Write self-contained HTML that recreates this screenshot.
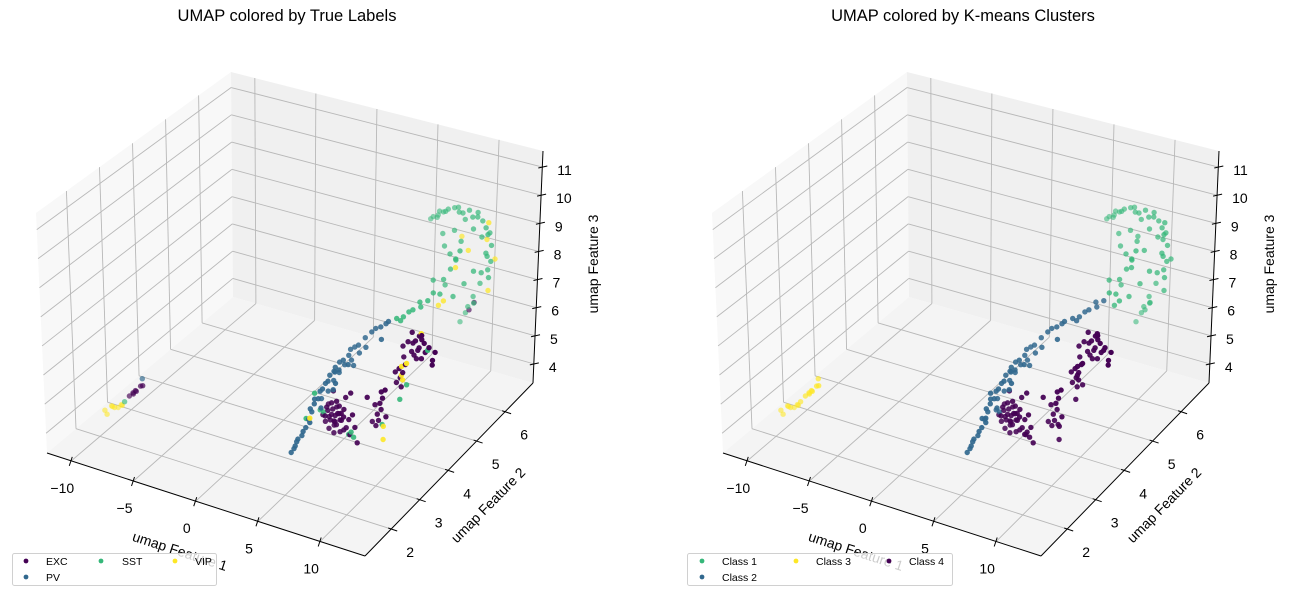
<!DOCTYPE html>
<html><head><meta charset="utf-8">
<style>
html,body{margin:0;padding:0;background:#fff;}
svg{display:block;font-family:"Liberation Sans","DejaVu Sans",sans-serif;}
</style></head>
<body>
<svg id="fig" width="1292" height="597" viewBox="0 0 1292 597" xmlns="http://www.w3.org/2000/svg">
<rect width="1292" height="597" fill="#ffffff"/>
<text x="287" y="21" font-size="16.5" text-anchor="middle" fill="#000">UMAP colored by True Labels</text>
<text x="963" y="21" font-size="16.5" text-anchor="middle" fill="#000">UMAP colored by K-means Clusters</text>
<g id="left"></g>
<g id="right" transform="translate(676,0)"></g>
<g>
<rect x="12.5" y="553.5" width="204" height="32" rx="2" fill="#fff" fill-opacity="0.8" stroke="#d0d0d0"/>
<circle cx="26" cy="561" r="2.4" fill="#440154"/>
<text x="46" y="565" font-size="10.5">EXC</text>
<circle cx="26" cy="577" r="2.4" fill="#31688e"/>
<text x="46" y="581" font-size="10.5">PV</text>
<circle cx="101" cy="561" r="2.4" fill="#35b779"/>
<text x="122" y="565" font-size="10.5">SST</text>
<circle cx="175" cy="561" r="2.4" fill="#fde725"/>
<text x="195" y="565" font-size="10.5">VIP</text>
</g>
<g>
<rect x="687.5" y="553.5" width="265" height="32" rx="2" fill="#fff" fill-opacity="0.8" stroke="#d0d0d0"/>
<circle cx="702" cy="561" r="2.4" fill="#35b779"/>
<text x="722" y="565" font-size="10.5">Class 1</text>
<circle cx="702" cy="577" r="2.4" fill="#31688e"/>
<text x="722" y="581" font-size="10.5">Class 2</text>
<circle cx="796" cy="561" r="2.4" fill="#fde725"/>
<text x="816" y="565" font-size="10.5">Class 3</text>
<circle cx="889" cy="561" r="2.4" fill="#440154"/>
<text x="909" y="565" font-size="10.5">Class 4</text>
</g>
</svg>
<script>
// ---- data (UMAP embedding) ----
const xs = [
-9.4,-9.1,-8.9,-8.6,-8.3,-9.1,-8.7,-8.1, -7.9, -7.5,-7.2,-7.0,-6.7,-6.8,-7.3,-6.4, -6.8,
4.3,4.4,4.5,4.5,4.6,4.8,4.9,5.0,5.2,5.1,
5.0,5.2,5.1,5.4,5.3,5.5,5.5,5.7,5.6,5.9,5.8,6.1,5.9,6.2,6.4,6.3,6.4,6.7,7.0,7.4,7.6,8.0,8.3,8.5,6.3,6.6,7.3,8.3,
8.8,9.1,9.3,9.7,10.1,9.5,9.9,9.0, 10.6,10.3,
10.4,10.7,11.0,11.2,10.3,11.1,
7.7,8.3,8.6,9.1,9.5,10.0,10.3,10.7,11.1,11.5,11.8,12.2,12.4,12.6,12.8,12.9,12.7,13.1,12.5,11.9,11.5,10.9,11.2,12.2,
9.3,10.0,10.8,11.3,9.7,10.4,12.1,11.6,11.2,9.8,12.2, 7.9,8.1,8.4,
5.3,5.5,5.7,5.9,6.1,6.3,6.4,6.6,6.8,7.0,6.0,6.4,5.8,6.2,6.7,7.2,7.4,7.5,7.9,8.1,5.5,6.5,6.9,6.1,6.4,7.1,5.6,7.7,7.3,5.9,
8.9,9.1,9.0,9.3,9.2,9.4,9.3,9.6,8.8,9.7,8.6,8.4,
9.8,10.1,10.3,10.0,10.2,9.7,10.5,
9.7,10.1,10.4,10.7,11.0,11.2,11.5,11.8,12.1,12.3,10.8,11.2,10.3,11.3,12.2,9.9,
11.6,12.0,
9.5,9.5,10.2,10.2,10.3,10.6,11.15,10.9,10.5,11.1,11.4,10.5,12.3,12.4,13.0,13.1,5.2,
5.35,5.2,7.4,7.6,7.8,9.4,10.1,11.7,4.9,5.1,10.4,
5.3,5.6,5.8,6.0,6.2,5.5,6.5,6.9,5.0,5.7,6.0,6.8,
5.6,6.0,6.2,6.5,6.7,5.8,6.3,7.0,6.9,
10.5,10.9,11.4,10.6,11.0,
8.9,9.8,10.5,11.4,12.0,12.6,12.9
];
const ys = [
1.95,2.05,2.0,1.95,2.05,1.9,2.1,2.0, 2.0, 2.0,2.0,2.0,2.05,1.95,2.05,2.0, 2.15,
2.5,2.55,2.55,2.6,2.6,2.65,2.65,2.7,2.75,2.75,
2.85,2.9,2.95,2.95,3.05,3.05,3.15,3.15,3.25,3.3,3.35,3.35,3.45,3.45,3.55,3.65,3.75,3.75,3.85,3.9,3.95,3.95,4.0,4.0,3.15,3.45,3.75,3.85,
4.15,4.25,4.35,4.55,4.65,4.4,4.5,4.2, 4.85,4.75,
5.05,5.15,5.2,5.25,5.15,5.15,
5.7,5.7,5.75,5.7,5.75,5.7,5.7,5.75,5.7,5.7,5.75,5.7,5.75,5.6,5.65,5.6,5.55,5.45,5.45,5.45,5.45,5.45,5.5,5.55,
5.45,5.55,5.45,5.65,5.35,5.25,5.35,5.25,5.05,4.95,5.35, 5.7,5.75,5.7,
3.15,3.15,3.15,3.15,3.15,3.15,3.15,3.15,3.15,3.15,3.15,3.15,3.15,3.15,3.15,3.15,3.15,3.15,3.15,3.15,3.25,3.2,3.25,3.2,3.1,3.1,3.1,3.15,3.25,3.25,
3.45,3.45,3.45,3.45,3.45,3.45,3.45,3.45,3.45,3.45,3.45,3.35,
3.75,3.75,3.75,3.75,3.75,3.75,3.75,
4.0,4.0,4.0,4.0,4.0,4.0,4.0,4.0,4.0,4.0,4.0,4.0,4.05,3.95,3.95,3.95,
5.45,5.45,
3.45,3.45,3.75,3.75,3.75,3.75,4.0,4.85,4.85,5.15,5.45,5.6,5.7,5.7,5.7,5.45,2.75,
3.15,3.1,3.15,3.15,3.15,3.45,3.75,4.0,2.75,2.95,3.85,
3.1,3.2,3.3,3.4,3.5,3.0,3.6,3.7,2.9,3.35,3.2,3.55,
3.15,3.15,3.15,3.15,3.15,3.15,3.2,3.15,3.1,
4.0,4.0,4.0,4.0,4.0,
5.7,5.75,5.7,5.75,5.65,5.55,5.5
];
const zs = [
4.35,4.45,4.5,4.55,4.6,4.3,4.4,4.65, 4.8, 5.05,5.2,5.3,5.45,5.35,5.1,5.55, 5.6,
4.2,4.3,4.4,4.5,4.6,4.7,4.85,4.95,5.1,5.2,
5.45,5.6,5.7,5.75,5.9,6.0,6.1,6.2,6.3,6.4,6.5,6.45,6.6,6.7,6.8,6.9,6.9,7.0,7.2,7.4,7.5,7.6,7.7,7.8,6.2,6.6,7.0,7.3,
7.8,7.8,7.9,8.1,8.1,7.95,8.0,7.7, 8.2,8.3,
8.5,8.8,9.1,9.4,8.2,9.2,
9.7,9.9,10.0,10.2,10.25,10.2,10.2,10.3,10.15,10.2,10.05,9.9,9.7,9.8,9.4,8.9,9.1,8.5,8.6,7.7,7.3,6.7,7.0,8.1,
9.6,9.7,9.5,9.8,9.3,9.2,8.7,8.3,8.0,8.5,7.6, 9.8,9.75,10.05,
5.0,4.8,5.2,4.9,5.3,5.1,4.8,5.2,5.0,5.4,5.5,5.6,4.6,4.5,4.6,4.8,5.1,4.6,4.9,4.4,5.3,5.4,5.7,4.7,4.95,5.2,5.05,5.3,5.9,5.8,
4.8,5.0,5.2,5.4,5.6,5.8,6.0,6.1,5.5,5.2,4.9,5.8,
6.1,6.3,6.5,6.6,6.0,6.45,6.8,
7.1,7.3,7.0,7.4,7.2,7.5,7.1,7.3,6.9,7.2,6.8,6.85,7.6,7.7,6.8,6.8,
7.2,7.5,
4.4,4.85,6.4,6.7,6.25,6.85,7.7,8.0,7.8,8.9,9.25,9.5,9.5,10.1,8.9,8.05,5.25,
5.1,5.2,4.6,4.7,4.55,4.9,5.56,7.2,5.2,5.9,6.0,
5.6,5.8,6.1,6.3,6.5,5.4,6.6,6.8,5.3,6.35,5.9,6.5,
5.3,5.1,4.9,5.2,5.0,5.0,5.35,4.7,5.3,
7.3,7.1,7.4,6.9,7.6,
10.1,10.3,10.0,10.3,9.6,9.2,8.7
];
// true labels: 0 EXC, 1 PV, 2 SST, 3 VIP
const labelsTrue = [
3,3,3,3,3,3,3,3, 2, 0,0,0,0,0,0,0, 1,
1,1,1,1,1,1,1,1,1,1,
1,1,1,1,1,1,1,1,1,1,1,1,1,1,1,1,1,1,1,1,1,1,1,1,1,1,1,1,
2,2,2,2,2,2,2,2, 2,2,
2,2,2,2,2,2,
2,2,2,2,2,2,2,2,2,2,2,2,2,2,2,2,2,2,2,2,2,2,2,2,
2,2,2,2,2,2,2,2,2,2,2, 2,2,2,
0,0,0,0,0,0,0,0,0,0,0,0,0,0,0,0,0,0,0,0,0,0,0,0,0,0,0,0,0,0,
0,0,0,0,0,0,0,0,0,0,0,0,
0,0,0,0,0,0,0,
0,0,0,0,0,0,0,0,0,0,0,0,0,0,0,0,
0,0,
3,3,3,3,3,3,3,3,3,3,3,3,3,3,3,3,3,
2,2,2,2,2,2,2,2,2,2,2,
1,1,1,1,1,1,1,1,1,1,1,1,
0,0,0,0,0,0,0,0,0,
0,0,0,0,0,
2,2,2,2,2,2,2
];
// k-means: 0 Class 1, 1 Class 2, 2 Class 3, 3 Class 4
const labelsKmeans = [
2,2,2,2,2,2,2,2, 2, 2,2,2,2,2,2,2, 2,
1,1,1,1,1,1,1,1,1,1,
1,1,1,1,1,1,1,1,1,1,1,1,1,1,1,1,1,1,1,1,1,1,1,1,1,1,1,1,
1,1,1,1,1,1,1,1, 0,0,
0,0,0,0,0,0,
0,0,0,0,0,0,0,0,0,0,0,0,0,0,0,0,0,0,0,0,0,0,0,0,
0,0,0,0,0,0,0,0,0,0,0, 0,0,0,
3,3,3,3,3,3,3,3,3,3,3,3,3,3,3,3,3,3,3,3,3,3,3,3,3,3,3,3,3,3,
3,3,3,3,3,3,3,3,3,3,3,3,
3,3,3,3,3,3,3,
3,3,3,3,3,3,3,3,3,3,3,3,3,3,3,3,
0,0,
3,3,3,3,3,3,3,0,0,0,0,0,0,0,0,0,1,
1,1,3,3,3,3,3,3,1,1,3,
1,1,1,1,1,1,1,1,1,1,1,1,
3,3,3,3,3,3,3,3,3,
3,3,3,3,3,
0,0,0,0,0,0,0
];
const trueNames = ["EXC","PV","SST","VIP"];
const trueColors = ["#440154","#31688e","#35b779","#fde725"];
const kmNames = ["Class 1","Class 2","Class 3","Class 4"];
const kmColors = ["#35b779","#31688e","#fde725","#440154"];
const xTicks = [-10,-5,0,5,10];
const yTicks = [2,3,4,5,6];
const zTicks = [4,5,6,7,8,9,10,11];
const xRange = [-11.95,13.6];
const yRange = [1.08,6.98];
const zRange = [3.32,11.57];

// ---- projection (box corners in screen space) ----
const C000=[47,453],C100=[365,556],C110=[533,383],C010=[233,297];
const C001=[36,213],C101=[368,306],C111=[543,151],C011=[231,72];
function lerp(a,b,t){return [a[0]+(b[0]-a[0])*t,a[1]+(b[1]-a[1])*t];}
function norm(x,y,z){return [(x-xRange[0])/(xRange[1]-xRange[0]),(y-yRange[0])/(yRange[1]-yRange[0]),(z-zRange[0])/(zRange[1]-zRange[0])];}
function P(x,y,z){
  const [u,v,w]=norm(x,y,z);
  const b=lerp(lerp(C000,C100,u),lerp(C010,C110,u),v);
  const t=lerp(lerp(C001,C101,u),lerp(C011,C111,u),v);
  return lerp(b,t,w);
}
const NS="http://www.w3.org/2000/svg";
function mk(tag,attrs,parent){const e=document.createElementNS(NS,tag);for(const k in attrs)e.setAttribute(k,attrs[k]);parent.appendChild(e);return e;}
function poly(pts){return pts.map(p=>p[0].toFixed(1)+","+p[1].toFixed(1)).join(" ");}

function drawChart(g, labels, colors){
  const [x0,x1]=xRange,[y0,y1]=yRange,[z0,z1]=zRange;
  const panes=mk('g',{},g);
  
  
  const lw=mk('polygon',{points:poly([P(x0,y0,z0),P(x0,y1,z0),P(x0,y1,z1),P(x0,y0,z1)]),fill:'#f8f8f8'},panes);
  
  
  const bw=mk('polygon',{points:poly([P(x0,y1,z0),P(x1,y1,z0),P(x1,y1,z1),P(x0,y1,z1)]),fill:'#f0f0f0'},panes);
  
  
  const fl=mk('polygon',{points:poly([P(x0,y0,z0),P(x1,y0,z0),P(x1,y1,z0),P(x0,y1,z0)]),fill:'#f4f4f4'},panes);
  
  

  const grid=mk('g',{stroke:'#b8b8b8','stroke-width':0.9,fill:'none'},g);
  
  
  function ln(a,b,parent,name){const l=mk('line',{x1:a[0],y1:a[1],x2:b[0],y2:b[1]},parent);return l;}
  xTicks.forEach(t=>{ln(P(t,y0,z0),P(t,y1,z0),grid,'x-gridline');ln(P(t,y1,z0),P(t,y1,z1),grid,'x-gridline');});
  yTicks.forEach(t=>{ln(P(x0,t,z0),P(x1,t,z0),grid,'y-gridline');ln(P(x0,t,z0),P(x0,t,z1),grid,'y-gridline');});
  zTicks.forEach(t=>{ln(P(x0,y0,t),P(x0,y1,t),grid,'z-gridline');ln(P(x0,y1,t),P(x1,y1,t),grid,'z-gridline');});

  const ax=mk('g',{stroke:'#000','stroke-width':1},g);
  
  
  ln(P(x0,y0,z0),P(x1,y0,z0),ax,'x-axis-line');
  ln(P(x1,y0,z0),P(x1,y1,z0),ax,'y-axis-line');
  ln(P(x1,y1,z0),P(x1,y1,z1),ax,'z-axis-line');

  const tl=mk('g',{'font-size':14,fill:'#000','text-anchor':'middle'},g);
  
  
  xTicks.forEach(t=>{const p=P(t,y0,z0);ln([p[0]+1,p[1]-4],[p[0]-2,p[1]+5],ax,'x-tick');
    const e=mk('text',{x:p[0]-9,y:p[1]+32},tl);e.textContent=(t<0?'\u2212'+(-t):String(t));
    });
  yTicks.forEach(t=>{const p=P(x1,t,z0);ln([p[0]-3,p[1]-1],[p[0]+6,p[1]+2],ax,'y-tick');
    const e=mk('text',{x:p[0]+19,y:p[1]+28},tl);e.textContent=String(t);
    });
  zTicks.forEach(t=>{const p=P(x1,y1,t);ln([p[0]-4,p[1]+1],[p[0]+5,p[1]-1],ax,'z-tick');
    const e=mk('text',{x:p[0]+15,y:p[1]+8,'text-anchor':'start'},tl);e.textContent=String(t);
    });

  const l1=mk('text',{x:180,y:556,'font-size':14,'text-anchor':'middle',transform:'rotate(18 180 551)'},g);
  l1.textContent='umap Feature 1';
  
  
  const l2=mk('text',{x:488,y:510,'font-size':14,'text-anchor':'middle',transform:'rotate(-45.5 488 505)'},g);
  l2.textContent='umap Feature 2';
  
  
  const l3=mk('text',{x:593,y:269,'font-size':14,'text-anchor':'middle',transform:'rotate(-90 593 264)'},g);
  l3.textContent='umap Feature 3';
  
  

  // points with depth shading
  const pts=xs.map((x,i)=>{const [u,v,w]=norm(x,ys[i],zs[i]);return {i,d:0.55*(1-u)+0.85*v-0.25*w};});
  let dmin=Infinity,dmax=-Infinity;pts.forEach(p=>{dmin=Math.min(dmin,p.d);dmax=Math.max(dmax,p.d);});
  pts.sort((a,b)=>b.d-a.d);
  const sg=mk('g',{},g);
  
  
  pts.forEach(p=>{const i=p.i;const s=P(xs[i],ys[i],zs[i]);
    const a=1-0.45*(p.d-dmin)/(dmax-dmin);
    const c=mk('circle',{cx:s[0].toFixed(1),cy:s[1].toFixed(1),r:2.7,fill:colors[labels[i]],'fill-opacity':a.toFixed(2)},sg);
    
    
  });
}
drawChart(document.getElementById('left'),labelsTrue,trueColors);
drawChart(document.getElementById('right'),labelsKmeans,kmColors);
</script>
</body></html>
